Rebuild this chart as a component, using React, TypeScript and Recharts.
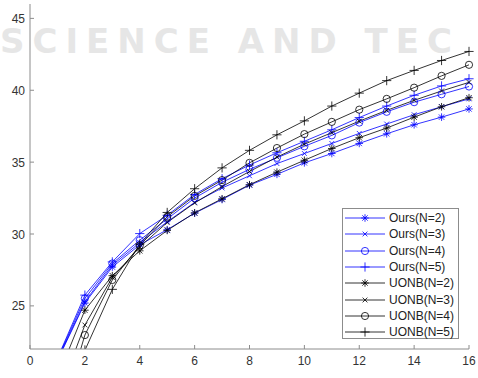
import React from "react";
import { LineChart, Line, XAxis, YAxis, Legend } from "recharts";

const xs = [1, 2, 3, 4, 5, 6, 7, 8, 9, 10, 11, 12, 13, 14, 15, 16];
const ours2 = [21.2, 25.2, 27.7, 29.25, 30.3, 31.45, 32.4, 33.4, 34.15, 34.95, 35.6, 36.3, 36.97, 37.6, 38.13, 38.7];
const ours3 = [21.25, 25.3, 27.83, 29.4, 30.85, 32.2, 33.2, 34.05, 34.9, 35.6, 36.3, 37.0, 37.65, 38.3, 38.85, 39.4];
const ours4 = [21.3, 25.52, 27.95, 29.57, 31.05, 32.5, 33.6, 34.5, 35.3, 36.1, 36.86, 37.75, 38.5, 39.17, 39.72, 40.26];
const ours5 = [21.35, 25.75, 28.06, 30.03, 31.3, 32.75, 33.85, 34.8, 35.65, 36.45, 37.25, 38.1, 38.9, 39.65, 40.3, 40.8];
const uonb2 = [20.0, 24.7, 27.1, 28.83, 30.25, 31.47, 32.45, 33.43, 34.3, 35.13, 35.95, 36.7, 37.37, 38.13, 38.85, 39.48];
const uonb3 = [18.6, 23.67, 26.98, 29.1, 30.8, 32.16, 33.3, 34.35, 35.35, 36.25, 37.05, 37.85, 38.6, 39.3, 39.95, 40.55];
const uonb4 = [16.5, 22.97, 26.8, 29.2, 31.2, 32.65, 33.75, 34.95, 35.98, 36.95, 37.8, 38.65, 39.4, 40.18, 41.0, 41.77];
const uonb5 = [14.5, 21.9, 26.15, 29.3, 31.5, 33.15, 34.6, 35.82, 36.9, 37.87, 38.9, 39.8, 40.67, 41.38, 42.07, 42.7];

const xTicks = [0, 2, 4, 6, 8, 10, 12, 14, 16];
const yTicks = [25, 30, 35, 40, 45];

const BLUE = "#0000ff";
const BLACK = "#000000";
const AXIS = "#8c8c8c";

type Kind = "star" | "x" | "circle" | "plus";

const series: { key: string; name: string; color: string; kind: Kind; values: number[] }[] = [
    { key: "ours2", name: "Ours(N=2)", color: BLUE, kind: "star", values: ours2 },
    { key: "ours3", name: "Ours(N=3)", color: BLUE, kind: "x", values: ours3 },
    { key: "ours4", name: "Ours(N=4)", color: BLUE, kind: "circle", values: ours4 },
    { key: "ours5", name: "Ours(N=5)", color: BLUE, kind: "plus", values: ours5 },
    { key: "uonb2", name: "UONB(N=2)", color: BLACK, kind: "star", values: uonb2 },
    { key: "uonb3", name: "UONB(N=3)", color: BLACK, kind: "x", values: uonb3 },
    { key: "uonb4", name: "UONB(N=4)", color: BLACK, kind: "circle", values: uonb4 },
    { key: "uonb5", name: "UONB(N=5)", color: BLACK, kind: "plus", values: uonb5 },
];

const data = xs.map((x, i) => {
    const row: Record<string, number> = { x };
    series.forEach((s) => (row[s.key] = s.values[i]));
    return row;
});

function markerShape(kind: Kind, cx: number, cy: number, color: string) {
    const sw = 0.8;
    if (kind === "circle") return <circle cx={cx} cy={cy} r={3.6} fill="none" stroke={color} strokeWidth={sw} />;
    if (kind === "plus") {
        const h = 4.6;
        return (
            <g stroke={color} strokeWidth={sw}>
                <line x1={cx - h} y1={cy} x2={cx + h} y2={cy} />
                <line x1={cx} y1={cy - h} x2={cx} y2={cy + h} />
            </g>
        );
    }
    if (kind === "x") {
        const d = 2.4;
        return (
            <g stroke={color} strokeWidth={sw}>
                <line x1={cx - d} y1={cy - d} x2={cx + d} y2={cy + d} />
                <line x1={cx - d} y1={cy + d} x2={cx + d} y2={cy - d} />
            </g>
        );
    }
    const h = 3.8;
    const d = 2.7;
    return (
        <g stroke={color} strokeWidth={sw}>
            <line x1={cx - h} y1={cy} x2={cx + h} y2={cy} />
            <line x1={cx} y1={cy - h} x2={cx} y2={cy + h} />
            <line x1={cx - d} y1={cy - d} x2={cx + d} y2={cy + d} />
            <line x1={cx - d} y1={cy + d} x2={cx + d} y2={cy - d} />
        </g>
    );
}

const BottomTick = (p: any) => (
    <g>
        <line x1={p.x} x2={p.x} y1={p.y} y2={p.y - 4} stroke={AXIS} />
        <text x={p.x} y={p.y + 16} textAnchor="middle" fontSize={12} fill="#333" fontFamily="Liberation Sans, Arial">
            {p.payload.value}
        </text>
    </g>
);
const TopTick = (p: any) => <line x1={p.x} x2={p.x} y1={p.y} y2={p.y + 4} stroke={AXIS} />;
const LeftTick = (p: any) => (
    <g>
        <line x1={p.x} x2={p.x + 4} y1={p.y} y2={p.y} stroke={AXIS} />
        <text x={p.x - 5} y={p.y + 4.5} textAnchor="end" fontSize={12} fill="#333" fontFamily="Liberation Sans, Arial">
            {p.payload.value}
        </text>
    </g>
);
const RightTick = (p: any) => <line x1={p.x} x2={p.x - 4} y1={p.y} y2={p.y} stroke={AXIS} />;

const renderLegend = () => (
    <div
        style={{
            width: 117,
            height: 131,
            boxSizing: "border-box",
            border: `1px solid ${AXIS}`,
            background: "#fff",
            paddingTop: 1,
            fontFamily: "Liberation Sans, Arial",
            fontSize: 12,
            color: "#222",
        }}
    >
        {series.map((s) => (
            <div key={s.key} style={{ height: 16.3, display: "flex", alignItems: "center" }}>
                <svg width={46} height={16} style={{ display: "block", flex: "none" }}>
                    <line x1={2} x2={42} y1={8} y2={8} stroke={s.color} strokeWidth={0.8} />
                    {markerShape(s.kind, 22, 8, s.color)}
                </svg>
                <span style={{ lineHeight: "16px" }}>{s.name}</span>
            </div>
        ))}
    </div>
);

export default function App() {
    return (
        <div style={{ position: "absolute", left: 0, top: 0, width: 478, height: 378, background: "#fff", overflow: "hidden" }}>
            {/* faint watermark behind the plot */}
            <svg width={478} height={378} style={{ position: "absolute", left: 0, top: 0 }}>
                <text x={0} y={53} fontSize={34} fontWeight="bold" letterSpacing={8} fill="#e6e6e6" fontFamily="DejaVu Sans">
                    SCIENCE AND TEC
                </text>
            </svg>
            <div style={{ position: "absolute", left: 0, top: 0 }}>
                <LineChart width={478} height={378} data={data} margin={{ top: 4, right: 9, bottom: 0, left: 0 }}>
                    <XAxis
                        dataKey="x"
                        type="number"
                        domain={[0, 16]}
                        ticks={xTicks}
                        interval={0}
                        height={29}
                        tickLine={false}
                        tickSize={0}
                        tickMargin={0}
                        axisLine={{ stroke: AXIS }}
                        tick={BottomTick}
                    />
                    <XAxis
                        xAxisId="top"
                        orientation="top"
                        dataKey="x"
                        type="number"
                        domain={[0, 16]}
                        ticks={xTicks}
                        interval={0}
                        height={0}
                        tickLine={false}
                        tickSize={0}
                        tickMargin={0}
                        axisLine={{ stroke: AXIS }}
                        tick={TopTick}
                    />
                    <YAxis
                        type="number"
                        domain={[22, 46]}
                        allowDataOverflow
                        ticks={yTicks}
                        interval={0}
                        width={30}
                        tickLine={false}
                        tickSize={0}
                        tickMargin={0}
                        axisLine={{ stroke: AXIS }}
                        tick={LeftTick}
                    />
                    <YAxis
                        yAxisId="right"
                        orientation="right"
                        type="number"
                        domain={[22, 46]}
                        allowDataOverflow
                        ticks={yTicks}
                        interval={0}
                        width={0}
                        tickLine={false}
                        tickSize={0}
                        tickMargin={0}
                        axisLine={{ stroke: AXIS }}
                        tick={RightTick}
                    />
                    <Legend
                        layout="vertical"
                        align="center"
                        verticalAlign="middle"
                        wrapperStyle={{ left: 342, top: 208, width: 117, height: 131 }}
                        content={renderLegend}
                    />
                    {series.map((s) => (
                        <Line
                            key={s.key}
                            dataKey={s.key}
                            name={s.name}
                            stroke={s.color}
                            strokeWidth={0.8}
                            isAnimationActive={false}
                            activeDot={false}
                            dot={(p: any) => <g key={p.index}>{markerShape(s.kind, p.cx, p.cy, s.color)}</g>}
                        />
                    ))}
                </LineChart>
            </div>
        </div>
    );
}
